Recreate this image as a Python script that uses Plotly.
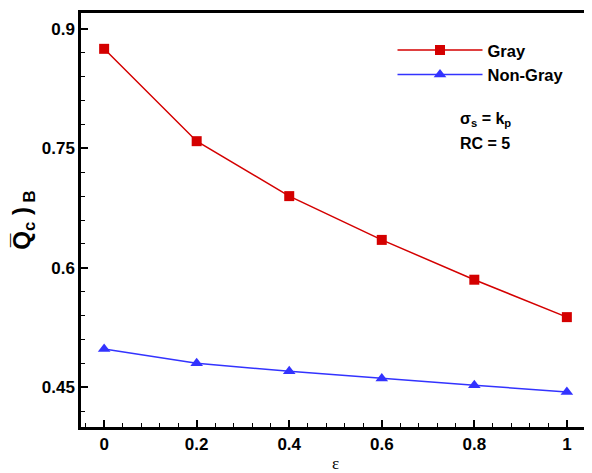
import plotly.graph_objects as go

eps = [0, 0.2, 0.4, 0.6, 0.8, 1.0]
gray = [0.875, 0.759, 0.690, 0.635, 0.585, 0.538]
nongray = [0.498, 0.480, 0.470, 0.461, 0.4525, 0.444]

FONT = "Liberation Sans, Arial, sans-serif"

fig = go.Figure()
fig.add_trace(go.Scatter(x=eps, y=gray, mode="lines+markers", name="Gray",
                         line=dict(color="#d40000", width=1.5),
                         marker=dict(symbol="square", size=10, color="#d40000")))
fig.add_trace(go.Scatter(x=eps, y=nongray, mode="lines+markers", name="Non-Gray",
                         line=dict(color="#3333ff", width=1.5),
                         marker=dict(symbol="triangle-up", size=11, color="#3333ff")))

axis_common = dict(showgrid=False, zeroline=False, showline=True, linecolor="black",
                   linewidth=2.5, mirror=True, ticks="inside", ticklen=7, tickwidth=2,
                   tickcolor="black", automargin=False,
                   tickfont=dict(family=FONT, size=17, color="black", weight="bold"))

fig.update_xaxes(range=[-0.05, 1.05], tickvals=[0, 0.2, 0.4, 0.6, 0.8, 1],
                 ticktext=["0", "0.2", "0.4", "0.6", "0.8", "1"],
                 minor=dict(dtick=0.04, tick0=0, ticks="inside", ticklen=4, tickwidth=1, tickcolor="black"),
                 **axis_common)
fig.update_yaxes(range=[0.40, 0.92], tickvals=[0.45, 0.6, 0.75, 0.9],
                 ticktext=["0.45", "0.6", "0.75", "0.9"],
                 minor=dict(dtick=0.03, tick0=0.45, ticks="inside", ticklen=4, tickwidth=1, tickcolor="black"),
                 title=dict(text="<b>Q\u0305<sub>c</sub> )<sub> B</sub></b>",
                            font=dict(family=FONT, size=24, color="black"), standoff=16),
                 **axis_common)

# x-axis title (epsilon), placed below the tick labels
fig.add_annotation(x=0.5, y=0, xref="paper", yref="paper", xanchor="center", yanchor="middle",
                   yshift=-36, borderpad=0, text="ε", showarrow=False,
                   font=dict(family="Liberation Serif, Times New Roman, serif", size=17, color="black"))

fig.add_annotation(x=0.741, y=0.742, xref="paper", yref="paper", xanchor="left", yanchor="middle",
                   text="<b>σ<sub>s</sub> = k<sub>p</sub></b>", showarrow=False,
                   font=dict(family=FONT, size=16, color="black"))
fig.add_annotation(x=0.741, y=0.684, xref="paper", yref="paper", xanchor="left", yanchor="middle",
                   text="<b>RC = 5</b>", showarrow=False,
                   font=dict(family=FONT, size=16, color="black"))

# The page body has an 8px margin, so the figure is sized to fit the window
fig.update_layout(width=584, height=465, paper_bgcolor="white", plot_bgcolor="white",
                  margin=dict(l=73, r=2, t=5, b=46),
                  legend=dict(x=0.612, y=0.952, xanchor="left", yanchor="top",
                              bgcolor="rgba(0,0,0,0)",
                              font=dict(family=FONT, size=16.5, color="black", weight="bold"),
                              itemwidth=85, tracegroupgap=0),
                  showlegend=True)

fig.write_html("out.html")
